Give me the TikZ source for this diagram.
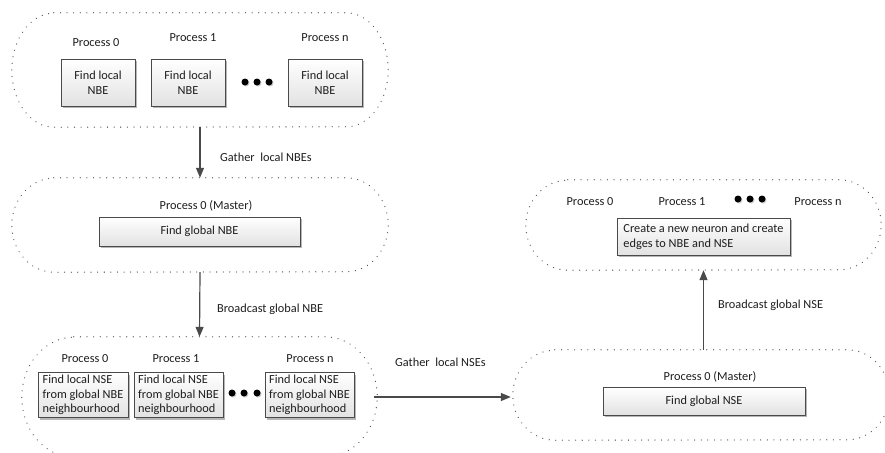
\documentclass[tikz,border=0pt]{standalone}
\usepackage{fontspec}
\setmainfont{Carlito}
\usetikzlibrary{arrows.meta,shadows}
\definecolor{edgec}{HTML}{4A4A4A}
\definecolor{dotc}{HTML}{555555}
\definecolor{boxbot}{HTML}{E2E2E2}
\definecolor{txtc}{HTML}{1E1E1E}
\newcommand\stad[3]{%
  \draw[dotline] ([xshift=#2]#1.north west) -- ([xshift=-#2]#1.north east)
    arc[start angle=90,end angle=-90,x radius=#2,y radius=#3]
    -- ([xshift=#2]#1.south west)
    arc[start angle=270,end angle=90,x radius=#2,y radius=#3] -- cycle;}
\tikzset{
  txt/.style={font=\fontsize{12.3}{14.6}\selectfont, text=txtc, inner sep=0pt},
  cont/.style={draw=none, inner sep=0pt},
  dotline/.style={draw=dotc, line width=1.3pt, line cap=round, dash pattern=on 0.01pt off 6.6pt},
  pbox/.style={txt, draw=edgec, line width=0.9pt, top color=white, bottom color=boxbot,
    drop shadow={shadow xshift=2pt, shadow yshift=-2pt, fill=black!40, opacity=0.7}},
  pboxc/.style={pbox, align=center},
  pboxl/.style={pbox, align=left, inner xsep=2.5pt},
  edot/.style={circle, fill=black, inner sep=0pt, minimum size=7pt,
    drop shadow={shadow xshift=1pt, shadow yshift=-1pt, fill=black!35, opacity=0.6}},
  arr/.style={draw=edgec, line width=1.2pt, -{Triangle[length=10pt,width=8pt]}},
}
\begin{document}
\begin{tikzpicture}[x=1pt,y=-1pt]
\useasboundingbox (0,0) rectangle (885,452);
\clip (0,0) rectangle (885,452);
\fill[white] (0,0) rectangle (885,452);

% ---------- A: top group ----------
\node[cont, minimum width=376pt, minimum height=114pt] (A) at (200,70) {};
\stad{A}{42pt}{57pt}
\node[txt] (A0l) at (96,43) {Process 0};
\node[txt] (A1l) at (193,38) {Process 1};
\node[txt] (Anl) at (325,38) {Process n};
\node[pboxc, minimum width=74pt, minimum height=47pt] (A0) at (98,82.5) {Find local\\NBE};
\node[pboxc, minimum width=74pt, minimum height=47pt] (A1) at (188,82.5) {Find local\\NBE};
\node[pboxc, minimum width=74pt, minimum height=47pt] (An) at (325,82.5) {Find local\\NBE};
\node[edot] (Ad1) at (245,82) {};
\node[edot] (Ad2) at (257,82) {};
\node[edot] (Ad3) at (269,82) {};

% ---------- B: master NBE ----------
\node[cont, minimum width=376pt, minimum height=94pt] (B) at (200,225) {};
\stad{B}{42pt}{47pt}
\node[txt] (Bl) at (206,206) {Process 0 (Master)};
\node[pboxc, minimum width=201pt, minimum height=29pt] (Bb) at (199.5,231.5) {Find global NBE};

% ---------- C: local NSE ----------
\node[cont, minimum width=355pt, minimum height=120pt] (C) at (199.5,397) {};
\stad{C}{52pt}{60pt}
\node[txt] (C0l) at (85,359) {Process 0};
\node[txt] (C1l) at (176,359) {Process 1};
\node[txt] (Cnl) at (310,359) {Process n};
\node[pboxl, minimum width=90pt, minimum height=45pt] (C0) at (83,395) {Find local NSE\\from global NBE\\neighbourhood};
\node[pboxl, minimum width=89pt, minimum height=45pt] (C1) at (178.5,395) {Find local NSE\\from global NBE\\neighbourhood};
\node[pboxl, minimum width=89pt, minimum height=45pt] (Cn) at (309.5,395) {Find local NSE\\from global NBE\\neighbourhood};
\node[edot] (Cd1) at (232,393) {};
\node[edot] (Cd2) at (244,393) {};
\node[edot] (Cd3) at (257,393) {};

% ---------- D: master NSE ----------
\node[cont, minimum width=376pt, minimum height=90pt] (D) at (701,395) {};
\stad{D}{42pt}{45pt}
\node[txt] (Dl) at (710,377) {Process 0 (Master)};
\node[pboxc, minimum width=202pt, minimum height=28pt] (Db) at (704,401) {Find global NSE};

% ---------- E: create neuron ----------
\node[cont, minimum width=355pt, minimum height=90pt] (E) at (703.5,225) {};
\stad{E}{42pt}{45pt}
\node[txt] (E0l) at (590,202) {Process 0};
\node[txt] (E1l) at (682,202) {Process 1};
\node[txt] (Enl) at (818,202) {Process n};
\node[edot] (Ed1) at (738,199) {};
\node[edot] (Ed2) at (750,199) {};
\node[edot] (Ed3) at (762,199) {};
\node[pboxl, minimum width=173pt, minimum height=37pt] (Eb) at (703.5,236.5) {Create a new neuron and create\\edges to NBE and NSE};

% ---------- connectors ----------
\draw[arr] (A.south) -- (B.north);
\node[txt, anchor=west] (g1) at (220,157) {Gather\ \ local NBEs};
\draw[arr] (B.south) -- (C.north);
\node[txt, anchor=west] (g2) at (217,309) {Broadcast global NBE};
\draw[arr] ([xshift=-3pt]C.east) -- ([xshift=-2pt]C.east -| D.west);
\node[txt, anchor=west] (g3) at (395,362) {Gather\ \ local NSEs};
\draw[arr] (D.north -| E.south) -- (E.south);
\node[txt, anchor=west] (g4) at (718,305) {Broadcast global NSE};
\end{tikzpicture}
\end{document}
